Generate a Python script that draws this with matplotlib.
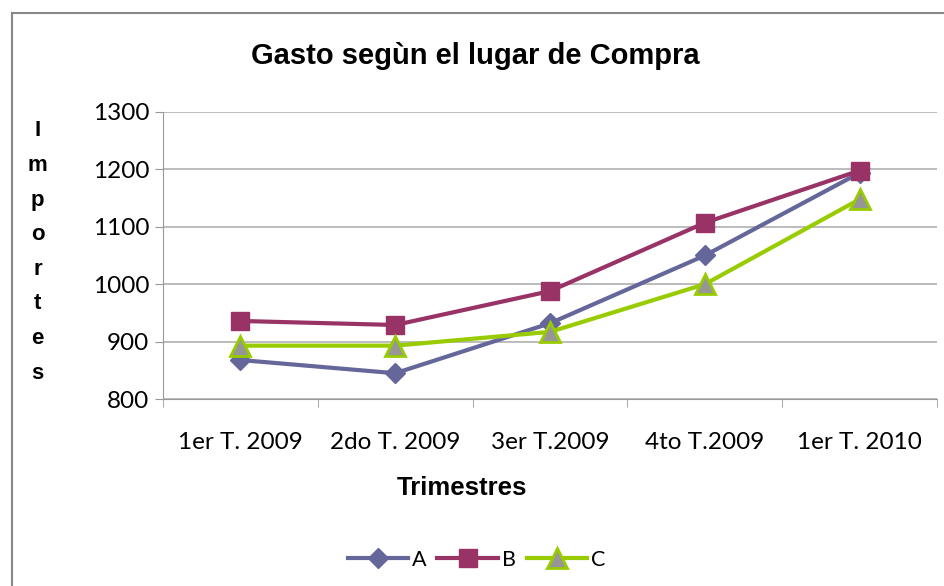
import matplotlib
matplotlib.use('Agg')
import matplotlib.pyplot as plt
from matplotlib.lines import Line2D
import numpy as np

# Datos del gráfico
trimestres = ['1er T. 2009', '2do T. 2009', '3er T.2009', '4to T.2009', '1er T. 2010']
serie_a = [868, 845, 932, 1050, 1194]
serie_b = [936, 929, 988, 1107, 1198]
serie_c = [893, 893, 917, 1000, 1148]
y_ticks = [800, 900, 1000, 1100, 1200, 1300]

fig = plt.figure(figsize=(9.44, 5.86), dpi=100)
ax = fig.add_axes([0.1727, 0.319, 0.82, 0.49])

x = np.arange(len(trimestres))
ax.plot(x, serie_a, color='#65669A', lw=3, marker='D', ms=10, mec='#65669A',
        mfc='#65669A', label='A', zorder=3)
ax.plot(x, serie_b, color='#993366', lw=3, marker='s', ms=13, mec='#993366',
        mfc='#993366', label='B', zorder=4)
ax.plot(x, serie_c, color='#99CC00', lw=3, marker='^', ms=14, mec='#99CC00',
        mew=2, mfc='#969696', label='C', zorder=5)

ax.set_xlim(-0.5, len(trimestres) - 0.5)
ax.set_ylim(800, 1300)
ax.set_yticks(y_ticks)
ax.set_xticks(x)
ax.set_xticklabels(trimestres, fontsize=17.5, family='Lato')
ax.set_xticks(np.arange(len(trimestres) + 1) - 0.5, minor=True)
ax.tick_params(axis='x', which='major', length=0, pad=24)
ax.tick_params(axis='x', which='minor', length=6, color='#999999')
ax.tick_params(axis='y', length=6, color='#999999', labelsize=17.5, pad=4)
for lbl in ax.get_yticklabels():
    lbl.set_family('Lato')
ax.yaxis.grid(True, color='#b0b0b0', lw=1.2)
ax.set_axisbelow(True)
for s in ['top', 'right']:
    ax.spines[s].set_visible(False)
ax.spines['left'].set_color('#999999')
ax.spines['bottom'].set_color('#999999')

fig.text(0.503, 0.905, 'Gasto segùn el lugar de Compra', ha='center', va='center',
         fontsize=21, fontweight='bold', family='Liberation Sans')
fig.text(0.489, 0.167, 'Trimestres', ha='center', va='center',
         fontsize=18.5, fontweight='bold', family='Liberation Sans')
fig.text(0.040, 0.570, 'I\nm\np\no\nr\nt\ne\ns', ha='center', va='center',
         fontsize=16, fontweight='bold', family='Liberation Sans', linespacing=1.85)

# Borde del área del gráfico
fig.add_artist(Line2D([0.0127, 0.0127], [0.0, 0.978], color='#888888', lw=1.5))
fig.add_artist(Line2D([0.0127, 1.0], [0.978, 0.978], color='#888888', lw=1.5))

fig.legend(loc='center', bbox_to_anchor=(0.505, 0.045), ncol=3, frameon=False,
           handlelength=2.8, columnspacing=0.5, handletextpad=0.2,
           prop={'family': 'Lato', 'size': 15.5})

fig.savefig('out.png', dpi=100)
